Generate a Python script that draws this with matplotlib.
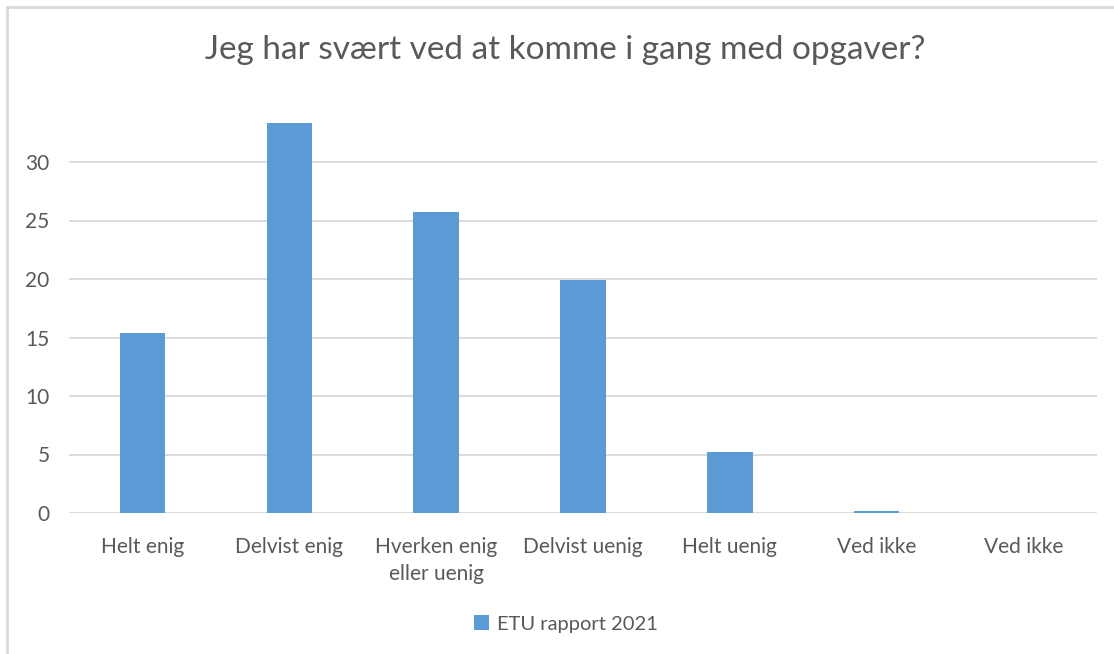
import matplotlib
matplotlib.use("Agg")
from matplotlib import pyplot as plt
from matplotlib.lines import Line2D

categories = ["Helt enig", "Delvist enig", "Hverken enig\neller uenig",
              "Delvist uenig", "Helt uenig", "Ved ikke", "Ved ikke"]
values = [15.4, 33.3, 25.7, 19.9, 5.2, 0.2, 0.0]
series_name = "ETU rapport 2021"
yticks = [0, 5, 10, 15, 20, 25, 30]

bar_color = "#5B9BD5"
text_color = "#595959"
grid_color = "#D9D9D9"

plt.rcParams['font.family'] = ['Lato', 'DejaVu Sans']

W, H = 1114, 654
fig = plt.figure(figsize=(W / 100, H / 100), dpi=100)

# plot area in pixels: left 69, right 1097, y=0 at 513, top 104
left, right, bottom, top = 69, 1097, 513, 103.5
ax = fig.add_axes([left / W, 1 - bottom / H, (right - left) / W, (bottom - top) / H])

x = range(len(categories))
ax.bar(x, values, width=0.31, color=bar_color, label=series_name, zorder=3)

ax.set_xlim(-0.5, len(categories) - 0.5)
ax.set_ylim(0, 35)
ax.set_yticks(yticks)
ax.set_xticks(list(x))
ax.set_xticklabels(categories, fontsize=15, color=text_color, linespacing=1.45)
ax.tick_params(axis='y', labelsize=15, labelcolor=text_color, length=0, pad=14)
ax.tick_params(axis='x', length=0, pad=17)
ax.grid(axis='y', color=grid_color, linewidth=1.3, zorder=0)
for s in ax.spines.values():
    s.set_visible(False)

fig.text(565 / W, 1 - 50 / H, "Jeg har svært ved at komme i gang med opgaver?",
         ha='center', va='center', fontsize=24, color=text_color)

fig.legend(loc='center', bbox_to_anchor=(566 / W, 1 - 624 / H), frameon=False,
           fontsize=14.5, labelcolor=text_color, handlelength=0.7, handleheight=0.7,
           handletextpad=0.4)

# outer chart frame (left and top edge)
fig.add_artist(Line2D([7 / W, 7 / W], [0, 1 - 7 / H], transform=fig.transFigure,
                      color="#D9D9D9", linewidth=2))
fig.add_artist(Line2D([7 / W, 1], [1 - 7 / H, 1 - 7 / H], transform=fig.transFigure,
                      color="#D9D9D9", linewidth=2))

fig.savefig("out.png", dpi=100, facecolor="white")
